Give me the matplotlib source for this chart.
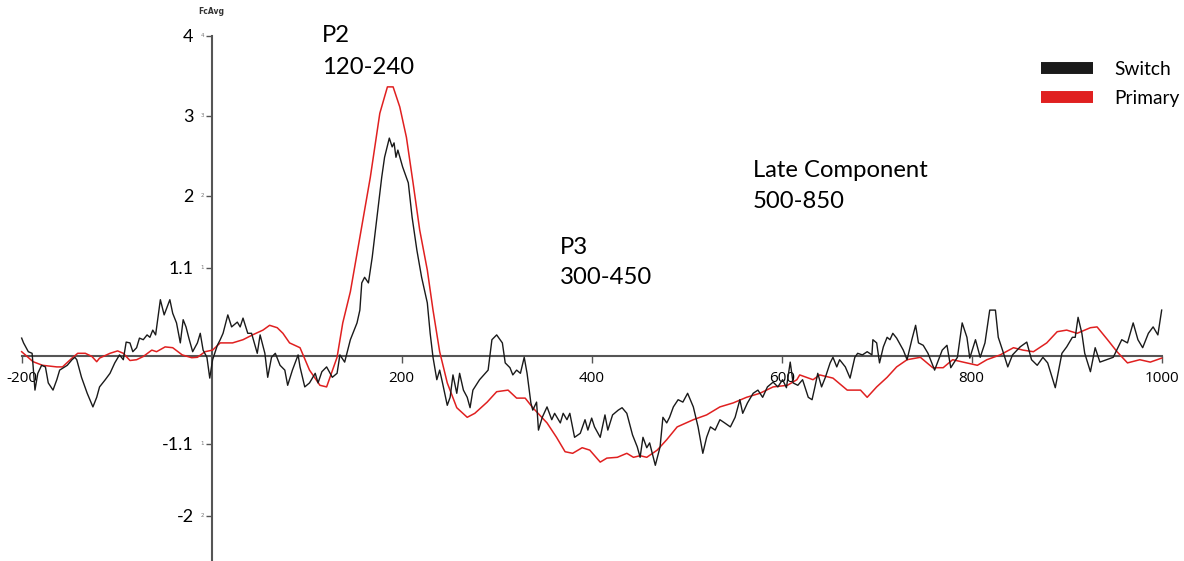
import matplotlib
matplotlib.use("Agg")
import matplotlib.pyplot as plt
from matplotlib.lines import Line2D

# ---------------- data ----------------
primary_t = [-200, -188, -178, -163, -157, -147, -141, -133, -126, -121, -118, -107, -99, -93, -86, -79,
             -72, -63, -58, -49, -41, -31, -21, -15, -7, 1, 9, 22, 33, 43, 54, 61, 69, 75, 82, 93,
             103, 114, 121, 132, 138, 146, 156, 167, 177, 185, 191, 198, 205, 212, 219, 227, 233,
             240, 248, 258, 269, 277, 290, 300, 312, 321, 330, 338, 353, 363, 372, 380, 390, 398,
             409, 416, 427, 437, 444, 451, 458, 469, 479, 490, 507, 521, 535, 549, 563, 577, 591,
             606, 616, 619, 633, 640, 654, 669, 683, 690, 700, 711, 721, 732, 746, 759, 770, 780,
             791, 806, 816, 830, 844, 854, 865, 879, 890, 900, 911, 925, 932, 943, 953, 964, 977,
             988, 1000]
primary_v = [0.05, -0.075, -0.12, -0.14, -0.14, -0.03, 0.03, 0.03, -0.01, -0.075, -0.03, 0.03, 0.06,
             0.03, -0.06, -0.05, -0.01, 0.07, 0.05, 0.11, 0.10, 0.01, -0.025, -0.02, 0.05, 0.07, 0.16,
             0.16, 0.20, 0.26, 0.32, 0.38, 0.35, 0.28, 0.16, 0.10, -0.18, -0.37, -0.39, -0.02, 0.41,
             0.80, 1.48, 2.23, 3.03, 3.36, 3.36, 3.11, 2.73, 2.16, 1.57, 1.07, 0.57, 0.05, -0.34,
             -0.65, -0.77, -0.72, -0.58, -0.45, -0.43, -0.53, -0.53, -0.65, -0.84, -1.02, -1.20,
             -1.22, -1.15, -1.18, -1.33, -1.28, -1.27, -1.22, -1.27, -1.25, -1.27, -1.18, -1.05,
             -0.89, -0.80, -0.74, -0.64, -0.59, -0.52, -0.47, -0.39, -0.37, -0.30, -0.24, -0.30,
             -0.24, -0.28, -0.43, -0.43, -0.52, -0.39, -0.27, -0.14, -0.05, -0.02, -0.15, -0.15,
             -0.05, -0.08, -0.12, -0.05, 0.01, 0.10, 0.07, 0.05, 0.16, 0.30, 0.32, 0.28, 0.35, 0.36,
             0.20, 0.05, -0.09, -0.05, -0.08, -0.03]

switch_t = [-200, -198, -193, -189, -186, -183, -179, -175, -172, -167, -163, -160, -156, -152, -147,
            -144, -142, -137, -131, -125, -121, -118, -112, -107, -102, -97, -93, -90, -86, -83, -79,
            -76, -72, -68, -65, -62, -59, -54, -50, -44, -41, -37, -33, -30, -27, -24, -20, -15, -12,
            -9, -5, -2, 1, 6, 9, 12, 17, 21, 27, 30, 33, 38, 42, 48, 51, 56, 59, 63, 67, 72, 77, 80,
            85, 91, 93, 98, 103, 109, 112, 116, 121, 127, 132, 135, 140, 146, 153, 156, 158, 161, 165,
            169, 174, 179, 182, 187, 190, 192, 194, 196, 201, 207, 211, 216, 221, 227, 230, 233, 237,
            240, 243, 248, 251, 254, 258, 261, 265, 269, 272, 275, 282, 288, 291, 295, 300, 306, 309,
            314, 317, 321, 325, 329, 332, 336, 338, 342, 344, 348, 353, 358, 361, 367, 370, 374, 377,
            382, 388, 393, 396, 400, 403, 409, 414, 417, 422, 428, 432, 437, 443, 448, 451, 454, 458,
            461, 467, 472, 475, 479, 482, 486, 491, 496, 501, 507, 512, 517, 521, 525, 530, 535, 540,
            546, 551, 556, 559, 564, 570, 575, 580, 585, 591, 596, 601, 605, 609, 612, 617, 622, 628,
            632, 635, 638, 642, 646, 651, 654, 658, 661, 667, 672, 677, 680, 685, 690, 695, 696, 700,
            703, 707, 711, 714, 717, 721, 728, 732, 737, 741, 744, 749, 754, 761, 769, 774, 778, 785,
            790, 795, 798, 804, 809, 814, 819, 825, 828, 833, 838, 843, 851, 858, 863, 869, 875, 880,
            888, 895, 900, 906, 909, 912, 916, 919, 925, 930, 935, 942, 949, 958, 964, 970, 975, 980,
            986, 991, 996, 1000]
switch_v = [0.22, 0.16, 0.05, 0.03, -0.43, -0.22, -0.12, -0.14, -0.34, -0.43, -0.30, -0.18, -0.15,
            -0.12, -0.05, -0.02, -0.05, -0.27, -0.47, -0.64, -0.52, -0.39, -0.30, -0.22, -0.09, 0.01,
            -0.05, 0.17, 0.16, 0.05, 0.10, 0.22, 0.20, 0.26, 0.23, 0.32, 0.26, 0.70, 0.51, 0.70, 0.53,
            0.41, 0.16, 0.45, 0.36, 0.22, 0.05, 0.16, 0.28, 0.07, -0.02, -0.28, -0.05, 0.13, 0.20,
            0.28, 0.51, 0.36, 0.42, 0.36, 0.47, 0.28, 0.28, 0.03, 0.26, 0.03, -0.27, -0.02, 0.03,
            -0.12, -0.18, -0.37, -0.18, 0.01, -0.14, -0.39, -0.34, -0.22, -0.34, -0.20, -0.14, -0.27,
            -0.22, 0.01, -0.08, 0.20, 0.41, 0.57, 0.91, 0.98, 0.91, 1.23, 1.73, 2.23, 2.48, 2.72,
            2.61, 2.66, 2.48, 2.57, 2.36, 2.16, 1.73, 1.32, 0.98, 0.66, 0.28, -0.02, -0.30, -0.18,
            -0.34, -0.62, -0.52, -0.24, -0.47, -0.22, -0.43, -0.52, -0.65, -0.43, -0.30, -0.22, -0.18,
            0.20, 0.26, 0.16, -0.09, -0.15, -0.24, -0.18, -0.22, -0.02, -0.22, -0.59, -0.68, -0.58,
            -0.93, -0.77, -0.64, -0.80, -0.72, -0.84, -0.72, -0.80, -0.72, -1.02, -0.97, -0.80, -0.93,
            -0.78, -0.89, -1.02, -0.74, -0.93, -0.74, -0.68, -0.65, -0.72, -0.99, -1.14, -1.27, -1.02,
            -1.15, -1.09, -1.37, -1.14, -0.77, -0.84, -0.77, -0.64, -0.55, -0.58, -0.47, -0.64, -0.89,
            -1.22, -1.02, -0.89, -0.93, -0.80, -0.84, -0.89, -0.77, -0.55, -0.72, -0.59, -0.47, -0.43,
            -0.52, -0.39, -0.33, -0.39, -0.30, -0.40, -0.08, -0.34, -0.37, -0.30, -0.52, -0.55, -0.39,
            -0.22, -0.39, -0.27, -0.09, -0.02, -0.14, -0.05, -0.14, -0.28, -0.02, 0.03, 0.01, 0.05,
            0.01, 0.20, 0.16, -0.09, 0.11, 0.23, 0.20, 0.28, 0.22, 0.07, -0.05, 0.20, 0.38, 0.16,
            0.13, 0.03, -0.18, 0.07, 0.13, -0.15, -0.02, 0.41, 0.23, -0.03, 0.20, -0.02, 0.16, 0.57,
            0.57, 0.23, 0.05, -0.14, 0.01, 0.11, 0.17, -0.05, -0.12, -0.02, -0.09, -0.40, 0.03, 0.11,
            0.23, 0.23, 0.48, 0.28, 0.03, -0.20, 0.10, -0.08, -0.05, -0.02, 0.20, 0.16, 0.41, 0.20,
            0.10, 0.28, 0.36, 0.26, 0.57]

x_ticks = [-200, 200, 400, 600, 800, 1000]
x_ticklabels = ["-200", "200", "400", "600", "800", "1000"]
y_ticks = [4, 3, 2, 1.1, -1.1, -2]
y_ticklabels = ["4", "3", "2", "1.1", "-1.1", "-2"]
y_small_labels = ["4", "3", "2", "1", "1", "2"]

# annotation lines: text, time (left edge), amplitude (baseline)
annot_text = ["P2", "120-240", "P3", "300-450", "Late Component", "500-850"]
annot_t = [116, 116, 366.5, 366.5, 569.5, 569.5]
annot_v = [3.92, 3.52, 1.27, 0.895, 2.23, 1.845]

series_names = ["Switch", "Primary"]
series_colors = ["#1a1a1a", "#e02020"]

# ---------------- figure ----------------
W, H, DPI = 1184, 561, 100
fig = plt.figure(figsize=(W / DPI, H / DPI), dpi=DPI)
ax = fig.add_axes([0, 0, 1, 1])
ax.set_xlim(-222.8, 1023.5)
ax.set_ylim(-2.566, 4.446)

axis_color = "#555555"
for s in ["top", "right"]:
    ax.spines[s].set_visible(False)
ax.spines["left"].set_position(("data", 0))
ax.spines["bottom"].set_position(("data", 0))
ax.spines["left"].set_bounds(-2.566, 4)
ax.spines["bottom"].set_bounds(-200, 1000)
for s in ["left", "bottom"]:
    ax.spines[s].set_color(axis_color)
    ax.spines[s].set_linewidth(1.5)
    ax.spines[s].set_zorder(1)

ax.set_xticks(x_ticks)
ax.set_xticklabels(x_ticklabels, fontfamily="Open Sans", fontsize=11)
ax.set_yticks(y_ticks)
ax.set_yticklabels(y_ticklabels, fontfamily="Lato", fontsize=13)
ax.tick_params(axis="x", direction="out", length=5, width=1, color=axis_color, pad=6)
ax.tick_params(axis="y", direction="out", length=4, width=1, color=axis_color, pad=9)

for v, lab in zip(y_ticks, y_small_labels):
    ax.annotate(lab, xy=(0, v), xytext=(-7, 0), textcoords="offset points",
                ha="center", va="center", fontsize=4, color="#777777")

ax.plot(switch_t, switch_v, color=series_colors[0], lw=1.0, zorder=3)
ax.plot(primary_t, primary_v, color=series_colors[1], lw=1.1, zorder=2)

for txt, t, v in zip(annot_text, annot_t, annot_v):
    ax.text(t, v, txt, fontfamily="Lato", fontsize=17.2, ha="left", va="baseline")

ax.text(0, 4.30, "FcAvg", fontsize=5.5, fontweight="bold", ha="center", va="center", color="#333333")

handles = [Line2D([], [], color=c, lw=8.6, solid_capstyle="butt") for c in series_colors]
leg = fig.legend(handles, series_names, loc="upper left", bbox_to_anchor=(1033 / W, 1 - 53 / H),
                 frameon=False, prop={"family": "Lato", "size": 13.8}, handlelength=2.75,
                 handletextpad=1.1, labelspacing=0.62, borderaxespad=0)

fig.savefig("out.png", dpi=DPI)
